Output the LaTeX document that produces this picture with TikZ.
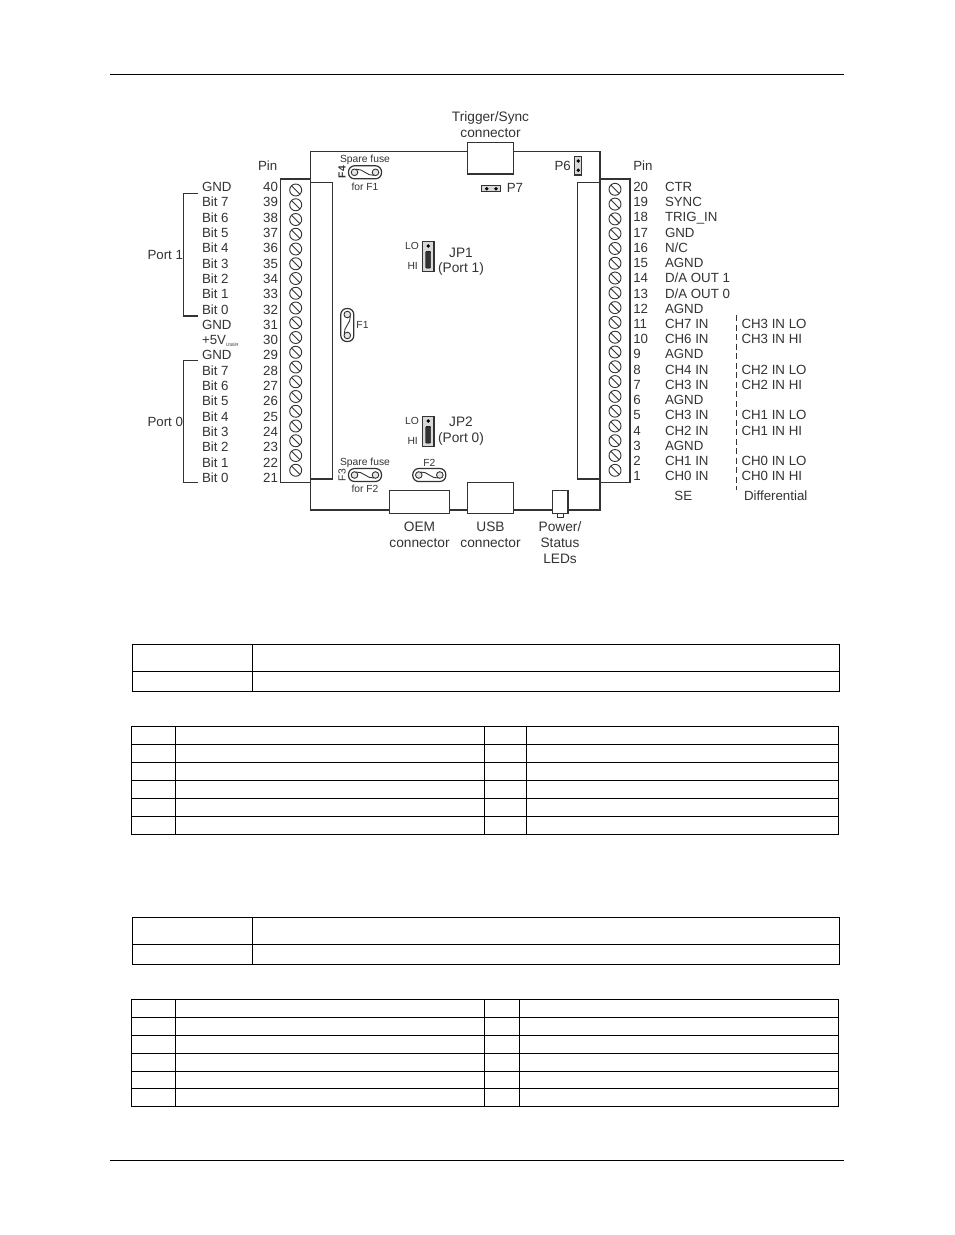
\documentclass[tikz,border=0pt]{standalone}
\usepackage{fontspec}
\setmainfont{Liberation Sans}
\usetikzlibrary{shapes.symbols,positioning}
\definecolor{ink}{gray}{0.2}
\tikzset{
  lbl/.style={inner sep=0pt,outer sep=0pt,text=ink,text height=9.5pt,text depth=0pt,font=\fontsize{13.3}{15}\selectfont},
  lblc/.style={inner sep=0pt,outer sep=0pt,text=ink,align=center,font=\fontsize{13.7}{15.6}\selectfont},
  tiny/.style={inner sep=0pt,outer sep=0pt,text=ink,font=\fontsize{10.3}{11}\selectfont},
  block/.style={draw=ink,line width=1.2pt,inner sep=0pt,outer sep=0pt},
  screw/.style={forbidden sign,rotate=90,draw=ink,line width=.9pt,inner sep=0pt,outer sep=0pt,minimum size=12pt},
  jumper/.style={draw=ink,line width=1.2pt,fill=black!15,inner sep=0pt,outer sep=0pt},
  pindot/.style={circle,fill=black,inner sep=0pt,minimum size=3.8pt},
  fuse/.pic={
    \draw[ink,line width=1.2pt,rounded corners=6pt] (-16.5,-6.5) rectangle (16.5,6.5);
    \draw[ink,line width=.9pt,fill=black!10] (-10.5,0) circle (3.3) (10.5,0) circle (3.3);
    \draw[ink,line width=.9pt] (-9,-3) .. controls (-2,-4) and (2,4) .. (9,3);
  }
}
\begin{document}
\begin{tikzpicture}[x=1pt,y=-1pt]
\useasboundingbox[fill=white] (0,0) rectangle (954,1235);
% page rules
\draw[line width=1pt] (110,74) -- (844,74);
\draw[line width=1pt] (110,1160) -- (844,1160);
% strips and terminal blocks
\node[block,minimum width=22pt,minimum height=296.7pt] (stripL) at (321.3,330.6) {};
\node[block,minimum width=22.3pt,minimum height=296.7pt] (stripR) at (588.8,330.6) {};
\node[block,minimum width=29.6pt,minimum height=303.3pt] (termL) at (295.5,330.6) {};
\node[block,minimum width=30pt,minimum height=303.3pt] (termR) at (615,330.6) {};
% connectors on the board
\node[block,minimum width=46pt,minimum height=31.3pt] (trigconn) at (490.3,158.3) {};
\node[block,minimum width=59.6pt,minimum height=23.4pt] (oemconn) at (419.5,502) {};
\node[block,minimum width=46pt,minimum height=31.4pt] (usbconn) at (490.3,498) {};
\node[block,minimum width=15.7pt,minimum height=22.6pt] (ledbox) at (560.2,502) {};
\node[block,line width=.8pt,minimum width=5.7pt,minimum height=3.7pt,below=0pt of ledbox] (lednub) {};
% board outline
\coordinate (boardNW) at (310.3,151.7);
\coordinate (boardNE) at (600,151.7);
\coordinate (boardSW) at (310.3,510);
\coordinate (boardSE) at (600,510);
\draw[ink,line width=1.1pt] (termL.north east) -- (boardNW) -- (trigconn.west |- boardNW);
\draw[ink,line width=1.1pt] (trigconn.east |- boardNE) -- (boardNE) -- (termR.north west);
\draw[ink,line width=1.1pt] (termL.south east) -- (boardSW) -- (oemconn.west |- boardSW);
\draw[ink,line width=1.2pt] (oemconn.east |- boardSW) -- (usbconn.west |- boardSW);
\draw[ink,line width=1.2pt] (usbconn.east |- boardSE) -- (ledbox.west |- boardSE);
\draw[ink,line width=1.2pt] (ledbox.east |- boardSE) -- (boardSE) -- (termR.south west);
% left side
\node[lbl,anchor=west] (pinheadL) at (258,166) {Pin};
\foreach \pin/\sig in {40/GND,39/Bit 7,38/Bit 6,37/Bit 5,36/Bit 4,35/Bit 3,34/Bit 2,33/Bit 1,32/Bit 0,31/GND,
    30/{+5V\raisebox{-2pt}{\fontsize{4.5}{5}\selectfont USER}},29/GND,28/Bit 7,27/Bit 6,26/Bit 5,25/Bit 4,24/Bit 3,23/Bit 2,22/Bit 1,21/Bit 0}{
  \pgfmathsetmacro\ypin{186.7+(40-\pin)*15.32}
  \pgfmathsetmacro\yscrew{190+(40-\pin)*14.75}
  \node[lbl,anchor=east] (pinL\pin) at (278,\ypin) {\pin};
  \node[lbl,anchor=west] (sigL\pin) at (202,\ypin) {\sig};
  \node[screw] (screwL\pin) at (295.7,\yscrew) {};
}
% port brackets
\coordinate (portAtop) at (198,193.7);
\coordinate (portAbot) at (198,316);
\coordinate (portBtop) at (198,360.7);
\coordinate (portBbot) at (198,482.7);
\draw[ink,line width=1.1pt] (portAtop) -- ++(-14.7,0) |- (portAbot);
\draw[ink,line width=1.1pt] (portBtop) -- ++(-14.7,0) |- (portBbot);
\node[lbl,anchor=east] (portA) at (183,255) {Port 1};
\node[lbl,anchor=east] (portB) at (183,421.7) {Port 0};
% right side
\node[lbl,anchor=west] (pinheadR) at (633.3,166) {Pin};
\foreach \pin/\sig in {20/CTR,19/SYNC,18/TRIG\_IN,17/GND,16/N\slash C,15/AGND,14/D\slash A OUT 1,13/D\slash A OUT 0,12/AGND,11/CH7 IN,
    10/CH6 IN,9/AGND,8/CH4 IN,7/CH3 IN,6/AGND,5/CH3 IN,4/CH2 IN,3/AGND,2/CH1 IN,1/CH0 IN}{
  \pgfmathsetmacro\ypin{186.7+(20-\pin)*15.23}
  \pgfmathsetmacro\yscrew{189.3+(20-\pin)*14.79}
  \node[lbl,anchor=west] (pinR\pin) at (633.3,\ypin) {\pin};
  \node[lbl,anchor=west] (sigR\pin) at (665,\ypin) {\sig};
  \node[screw] (screwR\pin) at (615,\yscrew) {};
}
\foreach \pin/\sig in {11/CH3 IN LO,10/CH3 IN HI,8/CH2 IN LO,7/CH2 IN HI,5/CH1 IN LO,4/CH1 IN HI,2/CH0 IN LO,1/CH0 IN HI}{
  \node[lbl,anchor=west] (diff\pin) at (741.5,{186.7+(20-\pin)*15.23}) {\sig};
}
\node[lbl,anchor=center] (selabel) at (683.3,495.7) {SE};
\node[lbl,anchor=center] (difflabel) at (775.7,495.7) {Differential};
\coordinate (divtop) at (736.7,315);
\coordinate (divbot) at (736.7,490);
\draw[ink,line width=1pt,dash pattern=on 6pt off 3.5pt] (divtop) -- (divbot);
% connector labels
\node[lblc] (triglabel) at (490.5,124.5) {Trigger/Sync\\connector};
\node[lblc] (oemlabel) at (419.5,535) {OEM\\connector};
\node[lblc] (usblabel) at (490.5,535) {USB\\connector};
\node[lblc] (ledlabel) at (560,542.5) {Power/\\Status\\LEDs};
% fuses
\pic at (365,172.3) {fuse};
\pic at (365,475) {fuse};
\pic at (429.3,475) {fuse};
\pic[rotate=90] at (347.3,325) {fuse};
\node[tiny] (spareA) at (365,160) {Spare fuse};
\node[tiny] (forA) at (365,187) {for F1};
\node[tiny,rotate=90] (fuseFour) at (342,172) {\textbf{F4}};
\node[tiny] (spareB) at (365,462.7) {Spare fuse};
\node[tiny] (forB) at (365,489) {for F2};
\node[tiny,rotate=90] (fuseThree) at (342,475) {F3};
\node[tiny] (fuseTwo) at (429.3,462.7) {F2};
\node[tiny] (fuseOne) at (362.5,325) {F1};
% jumpers
\foreach \name/\ytop/\port/\ylab in {1/241.7/1/261.5,2/416.7/0/431}{
  \node[jumper,minimum width=11.7pt,minimum height=30pt,anchor=north] (jp\name) at (428.2,\ytop) {};
  \node[pindot] (jp\name dotA) at (428.2,\ytop+4.3) {};
  \node[draw=black,fill=ink,rounded corners=1pt,inner sep=0pt,minimum width=5pt,minimum height=17pt,anchor=north] (jp\name shunt) at (428.2,\ytop+9.3) {};
  \node[tiny,anchor=center] (jp\name lo) at (412,\ytop+4.3) {LO};
  \node[tiny,anchor=center] (jp\name hi) at (412.7,\ytop+24.5) {HI};
  \node[lblc] (jp\name label) at (461,\ylab) {JP\name\\(Port \port)};
}
% small headers
\node[block,fill=black!15,minimum width=7pt,minimum height=18.3pt] (hdrsix) at (578.2,165.8) {};
\node[pindot] (hdrsixA) at (578.2,161) {};
\node[pindot] (hdrsixB) at (578.2,170.2) {};
\node[lbl,anchor=center] (hdrsixlabel) at (562.7,165.7) {P6};
\node[block,fill=black!15,minimum width=19pt,minimum height=6pt] (hdrseven) at (491.2,188.7) {};
\node[pindot] (hdrsevenA) at (486.7,188.7) {};
\node[pindot] (hdrsevenB) at (496,188.7) {};
\node[lbl,anchor=center] (hdrsevenlabel) at (515,188) {P7};
% empty tables
\tikzset{every path/.style={line width=1pt}}
\draw (132.3,644.3) rectangle (839,691.3) (132.3,671.3) -- (839,671.3) (252.3,644.3) -- (252.3,691.3);
\draw (132.3,917.3) rectangle (839,964.3) (132.3,944.3) -- (839,944.3) (252.3,917.3) -- (252.3,964.3);
\draw (131.3,726) rectangle (838.3,834.3);
\foreach \yrow in {744,762,780,798,816}{\draw (131.3,\yrow) -- (838.3,\yrow);}
\foreach \xcol in {175.3,484.7,526}{\draw (\xcol,726) -- (\xcol,834.3);}
\draw (131.3,999.3) rectangle (838.3,1106.3);
\foreach \yrow in {1017.3,1035.3,1053.3,1071.3,1088.3}{\draw (131.3,\yrow) -- (838.3,\yrow);}
\foreach \xcol in {175.3,484.7,519.3}{\draw (\xcol,999.3) -- (\xcol,1106.3);}
\end{tikzpicture}
\end{document}
